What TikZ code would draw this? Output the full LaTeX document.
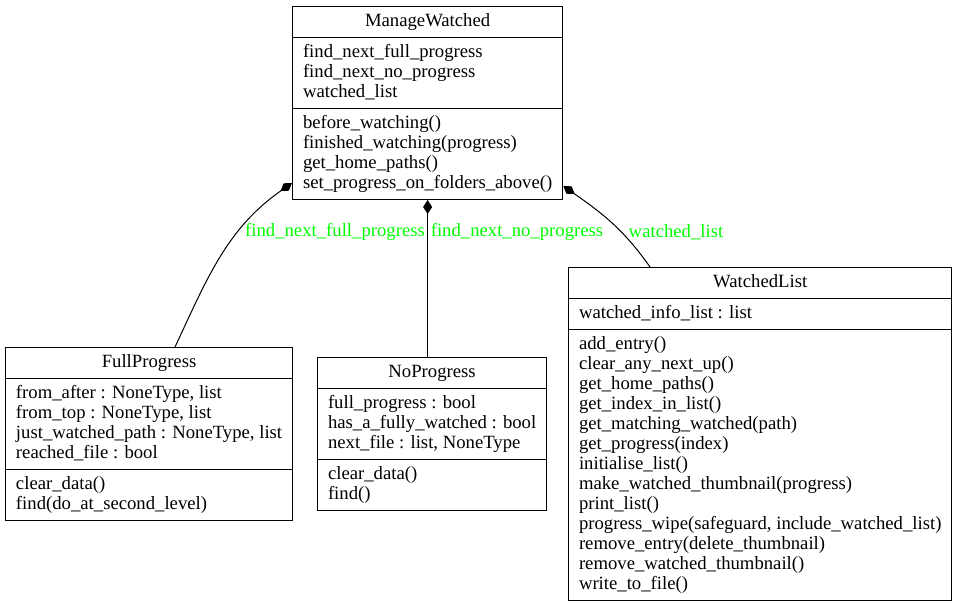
\documentclass[tikz,border=0pt]{standalone}
\usepackage{fontspec}
\setmainfont{Liberation Serif}
\usetikzlibrary{shapes.multipart, arrows.meta, calc}

\tikzset{
  umlclass/.style={draw, line width=1pt, rectangle split, rectangle split parts=3,
    rectangle split part align={center,left,left}, align=left,
    inner xsep=10.5pt, inner ysep=5pt, anchor=north west,
    font=\fontsize{18.7}{20}\selectfont},
  comp/.style={line width=1pt, {Diamond[length=14pt,width=9pt]}-},
  rolelabel/.style={text=green, inner sep=0pt, font=\fontsize{18.7}{20}\selectfont}
}

\begin{document}
\begin{tikzpicture}[x=1pt, y=-1pt]
\useasboundingbox (0,0) rectangle (956,605);

% classes
\node[umlclass] (mw) at (292,6) {\strut ManageWatched
  \nodepart{second}\strut find\_next\_full\_progress\\
  \strut find\_next\_no\_progress\\
  \strut watched\_list
  \nodepart{third}\strut before\_watching()\\
  \strut finished\_watching(progress)\\
  \strut get\_home\_paths()\\
  \strut set\_progress\_on\_folders\_above()};

\node[umlclass] (fp) at (5,347) {\strut FullProgress
  \nodepart{second}\strut from\_after : NoneType, list\\
  \strut from\_top : NoneType, list\\
  \strut just\_watched\_path : NoneType, list\\
  \strut reached\_file : bool
  \nodepart{third}\strut clear\_data()\\
  \strut find(do\_at\_second\_level)};

\node[umlclass] (np) at (317,357) {\strut NoProgress
  \nodepart{second}\strut full\_progress : bool\\
  \strut has\_a\_fully\_watched : bool\\
  \strut next\_file : list, NoneType
  \nodepart{third}\strut clear\_data()\\
  \strut find()};

\node[umlclass] (wl) at (568,267) {\strut WatchedList
  \nodepart{second}\strut watched\_info\_list : list
  \nodepart{third}\strut add\_entry()\\
  \strut clear\_any\_next\_up()\\
  \strut get\_home\_paths()\\
  \strut get\_index\_in\_list()\\
  \strut get\_matching\_watched(path)\\
  \strut get\_progress(index)\\
  \strut initialise\_list()\\
  \strut make\_watched\_thumbnail(progress)\\
  \strut print\_list()\\
  \strut progress\_wipe(safeguard, include\_watched\_list)\\
  \strut remove\_entry(delete\_thumbnail)\\
  \strut remove\_watched\_thumbnail()\\
  \strut write\_to\_file()};

% compositions
\draw[comp] ([yshift=17pt]mw.south west) to[out=215, in=65] ([xshift=170pt]fp.north west);
\draw[comp] (mw.south) -- (mw.south |- np.north);
\draw[comp] ([yshift=14pt]mw.south east) to[out=-35, in=125] ([xshift=82pt]wl.north west);

% role names
\node[rolelabel] (lfull) at (335,232) {find\_next\_full\_progress};
\node[rolelabel] (lno) at (517,232) {find\_next\_no\_progress};
\node[rolelabel] (lwl) at (676,232) {watched\_list};
\end{tikzpicture}
\end{document}
